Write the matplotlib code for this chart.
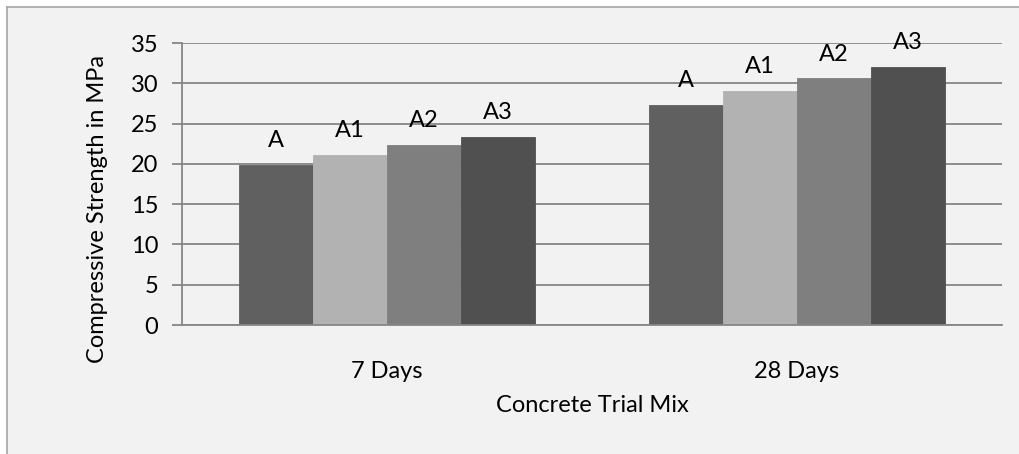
import matplotlib
matplotlib.use("Agg")
import matplotlib.pyplot as plt
import numpy as np
from matplotlib.patches import Rectangle
from matplotlib.lines import Line2D

# Data
categories = ["7 Days", "28 Days"]
series_names = ["A", "A1", "A2", "A3"]
values_7d = [19.9, 21.1, 22.3, 23.3]
values_28d = [27.3, 29.0, 30.6, 32.0]
series_colors = ["#606060", "#b2b2b2", "#7f7f7f", "#505050"]
y_ticks = [0, 5, 10, 15, 20, 25, 30, 35]

plt.rcParams["font.family"] = ["Lato", "DejaVu Sans"]
FS = 17
GRID = "#868686"
BG = "#f2f2f2"
FRAME = "#a6a6a6"

W, H = 1020, 454
fig = plt.figure(figsize=(W / 100, H / 100), dpi=100, facecolor="white")

# chart area panel: fill plus top/left border
x0, y0 = 7 / W, 1 - 7 / H
fig.add_artist(Rectangle((x0, 0), 1 - x0, y0, transform=fig.transFigure,
                         facecolor=BG, edgecolor="none", zorder=-2))
fig.add_artist(Line2D([x0, 1], [y0, y0], transform=fig.transFigure,
                      color=FRAME, linewidth=1.2, zorder=-1))
fig.add_artist(Line2D([x0, x0], [0, y0], transform=fig.transFigure,
                      color=FRAME, linewidth=1.2, zorder=-1))

ax = fig.add_axes([182 / W, 1 - 325 / H, (1002 - 182) / W, (325 - 43) / H])
ax.set_facecolor(BG)

data = np.array([values_7d, values_28d])  # shape (category, series)
x = np.arange(len(categories))
bw = 0.18
n = len(series_names)
for i, (name, col) in enumerate(zip(series_names, series_colors)):
    offs = (i - (n - 1) / 2) * bw
    bars = ax.bar(x + offs, data[:, i], width=bw, color=col,
                  edgecolor=col, linewidth=0.6, zorder=2)
    for b in bars:
        ax.annotate(name, (b.get_x() + b.get_width() / 2, b.get_height()),
                    xytext=(0, 10), textcoords="offset points",
                    ha="center", va="bottom", fontsize=FS, color="black")

ax.set_xlim(-0.5, 1.5)
ax.set_ylim(0, 35)
ax.set_yticks(y_ticks)
ax.set_xticks(x)
ax.set_xticklabels(categories, fontsize=FS)
ax.tick_params(axis="y", labelsize=FS, length=7, width=1.3, color=GRID, pad=10)
ax.tick_params(axis="x", length=0, pad=26)

ax.yaxis.grid(True, color=GRID, linewidth=1.3, zorder=0)
ax.set_axisbelow(True)
for s in ["top", "right"]:
    ax.spines[s].set_visible(False)
for s in ["left", "bottom"]:
    ax.spines[s].set_color(GRID)
    ax.spines[s].set_linewidth(1.3)

ax.set_ylabel("Compressive Strength in MPa", fontsize=FS)
ax.yaxis.set_label_coords(-0.090, 0.41)
ax.set_xlabel("Concrete Trial Mix", fontsize=FS, labelpad=9)

fig.savefig("out.png", dpi=100, facecolor="white")
